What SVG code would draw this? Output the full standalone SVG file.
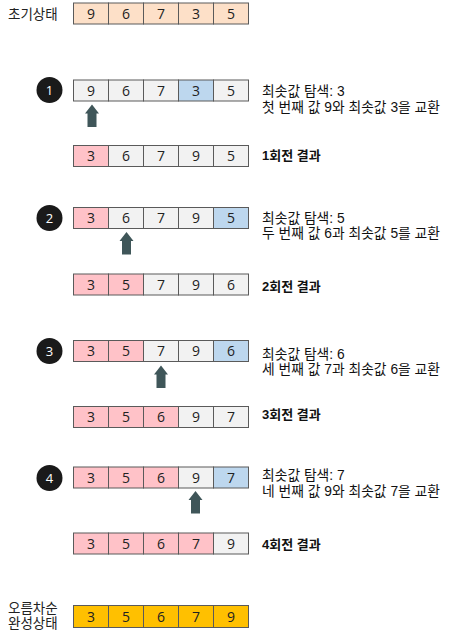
<svg xmlns="http://www.w3.org/2000/svg" width="459" height="640" viewBox="0 0 459 640">
<style>
.c{stroke:#5a5a5a;stroke-width:1}
.g{fill:#f2f2f2}
.o{fill:#fde0c8}
.p{fill:#ffc2c8}
.b{fill:#bdd7ee}
.y{fill:#ffc000}
.n{font-family:"Open Sans","Noto Sans",sans-serif;font-size:14px;fill:#222;text-anchor:middle}
.t{font-family:"Liberation Sans","Noto Sans CJK KR",sans-serif;font-size:13.8px;fill:#111}
.tb{font-family:"Liberation Sans","Noto Sans CJK KR",sans-serif;font-size:13px;font-weight:bold;fill:#111}
.l{font-family:"Liberation Sans","Noto Sans CJK KR",sans-serif;font-size:13.5px;fill:#222}
.num{font-family:"Open Sans","Noto Sans",sans-serif;font-size:13px;fill:#fff;text-anchor:middle}
.ar{fill:#3f5659}
</style>
<defs>
<path id="arrow" d="M0,0 L7,9 L4.5,9 L4.5,22.5 L-4.5,22.5 L-4.5,9 L-7,9 Z"/>
</defs>

<g id="label-initial"><text class="l" x="8" y="19">초기상태</text></g>
<g id="row-initial">
<rect class="c o" x="73.5" y="3" width="35" height="21"/><text class="n" x="91" y="18.5">9</text>
<rect class="c o" x="108.5" y="3" width="35" height="21"/><text class="n" x="126" y="18.5">6</text>
<rect class="c o" x="143.5" y="3" width="35" height="21"/><text class="n" x="161" y="18.5">7</text>
<rect class="c o" x="178.5" y="3" width="35" height="21"/><text class="n" x="196" y="18.5">3</text>
<rect class="c o" x="213.5" y="3" width="35" height="21"/><text class="n" x="231" y="18.5">5</text>
</g>

<g id="step1-badge"><circle cx="49.5" cy="90" r="13" fill="#1a1a1a"/><text class="num" x="49.5" y="94.5">1</text></g>
<g id="step1-row">
<rect class="c g" x="73.5" y="80" width="35" height="21"/><text class="n" x="91" y="95.5">9</text>
<rect class="c g" x="108.5" y="80" width="35" height="21"/><text class="n" x="126" y="95.5">6</text>
<rect class="c g" x="143.5" y="80" width="35" height="21"/><text class="n" x="161" y="95.5">7</text>
<rect class="c b" x="178.5" y="80" width="35" height="21"/><text class="n" x="196" y="95.5">3</text>
<rect class="c g" x="213.5" y="80" width="35" height="21"/><text class="n" x="231" y="95.5">5</text>
</g>
<g id="step1-note"><text class="t" x="262" y="96">최솟값 탐색: 3</text><text class="t" x="262" y="111.5">첫 번째 값 9와 최솟값 3을 교환</text></g>
<g id="result1-row">
<rect class="c p" x="73.5" y="145.5" width="35" height="21"/><text class="n" x="91" y="161">3</text>
<rect class="c g" x="108.5" y="145.5" width="35" height="21"/><text class="n" x="126" y="161">6</text>
<rect class="c g" x="143.5" y="145.5" width="35" height="21"/><text class="n" x="161" y="161">7</text>
<rect class="c g" x="178.5" y="145.5" width="35" height="21"/><text class="n" x="196" y="161">9</text>
<rect class="c g" x="213.5" y="145.5" width="35" height="21"/><text class="n" x="231" y="161">5</text>
</g>
<g id="result1-label"><text class="tb" x="262" y="159.5">1회전 결과</text></g>

<g id="step2-badge"><circle cx="49.5" cy="218" r="13" fill="#1a1a1a"/><text class="num" x="49.5" y="222.5">2</text></g>
<g id="step2-row">
<rect class="c p" x="73.5" y="207.5" width="35" height="21"/><text class="n" x="91" y="223">3</text>
<rect class="c g" x="108.5" y="207.5" width="35" height="21"/><text class="n" x="126" y="223">6</text>
<rect class="c g" x="143.5" y="207.5" width="35" height="21"/><text class="n" x="161" y="223">7</text>
<rect class="c g" x="178.5" y="207.5" width="35" height="21"/><text class="n" x="196" y="223">9</text>
<rect class="c b" x="213.5" y="207.5" width="35" height="21"/><text class="n" x="231" y="223">5</text>
</g>
<g id="step2-note"><text class="t" x="262" y="222.5">최솟값 탐색: 5</text><text class="t" x="262" y="238">두 번째 값 6과 최솟값 5를 교환</text></g>
<g id="result2-row">
<rect class="c p" x="73.5" y="274" width="35" height="21"/><text class="n" x="91" y="289.5">3</text>
<rect class="c p" x="108.5" y="274" width="35" height="21"/><text class="n" x="126" y="289.5">5</text>
<rect class="c g" x="143.5" y="274" width="35" height="21"/><text class="n" x="161" y="289.5">7</text>
<rect class="c g" x="178.5" y="274" width="35" height="21"/><text class="n" x="196" y="289.5">9</text>
<rect class="c g" x="213.5" y="274" width="35" height="21"/><text class="n" x="231" y="289.5">6</text>
</g>
<g id="result2-label"><text class="tb" x="262" y="290.5">2회전 결과</text></g>

<g id="step3-badge"><circle cx="49.5" cy="351" r="13" fill="#1a1a1a"/><text class="num" x="49.5" y="355.5">3</text></g>
<g id="step3-row">
<rect class="c p" x="73.5" y="340.5" width="35" height="21"/><text class="n" x="91" y="356">3</text>
<rect class="c p" x="108.5" y="340.5" width="35" height="21"/><text class="n" x="126" y="356">5</text>
<rect class="c g" x="143.5" y="340.5" width="35" height="21"/><text class="n" x="161" y="356">7</text>
<rect class="c g" x="178.5" y="340.5" width="35" height="21"/><text class="n" x="196" y="356">9</text>
<rect class="c b" x="213.5" y="340.5" width="35" height="21"/><text class="n" x="231" y="356">6</text>
</g>
<g id="step3-note"><text class="t" x="262" y="358.5">최솟값 탐색: 6</text><text class="t" x="262" y="374">세 번째 값 7과 최솟값 6을 교환</text></g>
<g id="result3-row">
<rect class="c p" x="73.5" y="406.5" width="35" height="21"/><text class="n" x="91" y="422">3</text>
<rect class="c p" x="108.5" y="406.5" width="35" height="21"/><text class="n" x="126" y="422">5</text>
<rect class="c p" x="143.5" y="406.5" width="35" height="21"/><text class="n" x="161" y="422">6</text>
<rect class="c g" x="178.5" y="406.5" width="35" height="21"/><text class="n" x="196" y="422">9</text>
<rect class="c g" x="213.5" y="406.5" width="35" height="21"/><text class="n" x="231" y="422">7</text>
</g>
<g id="result3-label"><text class="tb" x="262" y="419">3회전 결과</text></g>

<g id="step4-badge"><circle cx="49.5" cy="478" r="13" fill="#1a1a1a"/><text class="num" x="49.5" y="482.5">4</text></g>
<g id="step4-row">
<rect class="c p" x="73.5" y="467" width="35" height="21"/><text class="n" x="91" y="482.5">3</text>
<rect class="c p" x="108.5" y="467" width="35" height="21"/><text class="n" x="126" y="482.5">5</text>
<rect class="c p" x="143.5" y="467" width="35" height="21"/><text class="n" x="161" y="482.5">6</text>
<rect class="c g" x="178.5" y="467" width="35" height="21"/><text class="n" x="196" y="482.5">9</text>
<rect class="c b" x="213.5" y="467" width="35" height="21"/><text class="n" x="231" y="482.5">7</text>
</g>
<g id="step4-note"><text class="t" x="262" y="480">최솟값 탐색: 7</text><text class="t" x="262" y="495.5">네 번째 값 9와 최솟값 7을 교환</text></g>
<g id="result4-row">
<rect class="c p" x="73.5" y="533" width="35" height="21"/><text class="n" x="91" y="548.5">3</text>
<rect class="c p" x="108.5" y="533" width="35" height="21"/><text class="n" x="126" y="548.5">5</text>
<rect class="c p" x="143.5" y="533" width="35" height="21"/><text class="n" x="161" y="548.5">6</text>
<rect class="c p" x="178.5" y="533" width="35" height="21"/><text class="n" x="196" y="548.5">7</text>
<rect class="c g" x="213.5" y="533" width="35" height="21"/><text class="n" x="231" y="548.5">9</text>
</g>
<g id="result4-label"><text class="tb" x="262" y="549">4회전 결과</text></g>

<g id="label-final"><text class="l" x="8" y="612.5">오름차순</text><text class="l" x="8" y="628">완성상태</text></g>
<g id="row-final">
<rect class="c y" x="73.5" y="605.5" width="35" height="22"/><text class="n" x="91" y="621.5">3</text>
<rect class="c y" x="108.5" y="605.5" width="35" height="22"/><text class="n" x="126" y="621.5">5</text>
<rect class="c y" x="143.5" y="605.5" width="35" height="22"/><text class="n" x="161" y="621.5">6</text>
<rect class="c y" x="178.5" y="605.5" width="35" height="22"/><text class="n" x="196" y="621.5">7</text>
<rect class="c y" x="213.5" y="605.5" width="35" height="22"/><text class="n" x="231" y="621.5">9</text>
</g>

<g id="connectors" class="ar">
<use href="#arrow" x="92" y="104.5"/>
<use href="#arrow" x="126.5" y="232"/>
<use href="#arrow" x="161" y="365.5"/>
<use href="#arrow" x="195.5" y="491"/>
</g>
</svg>
